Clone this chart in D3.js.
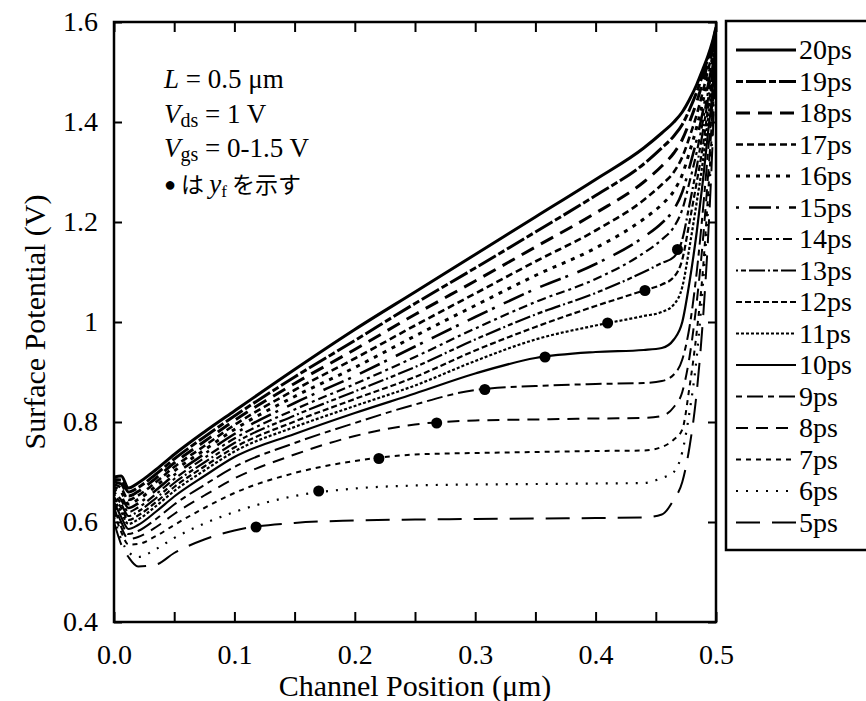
<!DOCTYPE html>
<html>
<head>
<meta charset="utf-8">
<script src="https://cdn.jsdelivr.net/npm/d3@7/dist/d3.min.js"></script>
<style>
body { margin: 0; background: #fff; }
</style>
</head>
<body>
<div id="viz"></div>
<script>
var width = 866;
var height = 701;

var positions = [0, 0.006, 0.012, 0.02, 0.035, 0.05, 0.075, 0.1, 0.15, 0.2, 0.25, 0.3, 0.35, 0.4, 0.44,
                 0.455, 0.465, 0.472, 0.478, 0.484, 0.489, 0.493, 0.497, 0.5];

// surface potential (V) for each time step
var ps20 = [0.69, 0.692, 0.668, 0.678, 0.705, 0.735, 0.78, 0.822, 0.905, 0.985, 1.06, 1.135, 1.21, 1.285, 1.348, 1.378, 1.40, 1.42, 1.445, 1.475, 1.505, 1.53, 1.56, 1.59];
var ps19 = [0.685, 0.684, 0.66, 0.669, 0.696, 0.726, 0.77, 0.812, 0.89, 0.963, 1.037, 1.108, 1.18, 1.253, 1.316, 1.348, 1.372, 1.395, 1.425, 1.46, 1.495, 1.525, 1.555, 1.588];
var ps18 = [0.68, 0.676, 0.652, 0.661, 0.688, 0.718, 0.761, 0.803, 0.877, 0.945, 1.015, 1.082, 1.15, 1.218, 1.28, 1.312, 1.338, 1.365, 1.40, 1.44, 1.48, 1.515, 1.55, 1.586];
var ps17 = [0.675, 0.668, 0.644, 0.653, 0.68, 0.71, 0.752, 0.794, 0.864, 0.927, 0.993, 1.057, 1.121, 1.183, 1.244, 1.275, 1.30, 1.33, 1.37, 1.415, 1.46, 1.50, 1.54, 1.584];
var ps16 = [0.67, 0.66, 0.636, 0.645, 0.672, 0.702, 0.744, 0.785, 0.851, 0.909, 0.972, 1.033, 1.093, 1.148, 1.206, 1.235, 1.262, 1.295, 1.34, 1.39, 1.44, 1.485, 1.53, 1.582];
var ps15 = [0.665, 0.652, 0.628, 0.637, 0.664, 0.694, 0.736, 0.776, 0.838, 0.892, 0.951, 1.01, 1.066, 1.116, 1.17, 1.198, 1.225, 1.26, 1.31, 1.365, 1.42, 1.47, 1.52, 1.58];
var ps14 = [0.66, 0.644, 0.62, 0.629, 0.656, 0.686, 0.728, 0.767, 0.825, 0.876, 0.93, 0.987, 1.04, 1.086, 1.138, 1.165, 1.19, 1.225, 1.28, 1.34, 1.40, 1.455, 1.51, 1.578];
var ps13 = [0.655, 0.636, 0.612, 0.621, 0.648, 0.678, 0.719, 0.758, 0.813, 0.861, 0.91, 0.965, 1.015, 1.058, 1.10, 1.118, 1.13, 1.165, 1.235, 1.31, 1.38, 1.44, 1.50, 1.576];
var ps12 = [0.65, 0.628, 0.604, 0.613, 0.64, 0.67, 0.711, 0.749, 0.801, 0.846, 0.89, 0.943, 0.99, 1.032, 1.063, 1.075, 1.09, 1.125, 1.20, 1.28, 1.35, 1.42, 1.49, 1.574];
var ps11 = [0.645, 0.62, 0.596, 0.605, 0.632, 0.662, 0.703, 0.741, 0.79, 0.832, 0.873, 0.922, 0.965, 0.993, 1.012, 1.02, 1.035, 1.07, 1.15, 1.24, 1.32, 1.40, 1.48, 1.572];
var ps10 = [0.64, 0.61, 0.586, 0.594, 0.621, 0.651, 0.692, 0.73, 0.776, 0.818, 0.857, 0.897, 0.928, 0.94, 0.944, 0.948, 0.965, 1.0, 1.08, 1.18, 1.28, 1.37, 1.46, 1.57];
var ps9 = [0.635, 0.6, 0.576, 0.582, 0.606, 0.635, 0.674, 0.71, 0.758, 0.798, 0.835, 0.864, 0.872, 0.876, 0.878, 0.882, 0.895, 0.925, 0.99, 1.10, 1.22, 1.33, 1.44, 1.568];
var ps8 = [0.63, 0.59, 0.566, 0.57, 0.59, 0.616, 0.653, 0.687, 0.735, 0.772, 0.795, 0.803, 0.805, 0.807, 0.808, 0.812, 0.83, 0.86, 0.93, 1.04, 1.16, 1.28, 1.42, 1.566];
var ps7 = [0.62, 0.58, 0.555, 0.556, 0.572, 0.594, 0.628, 0.658, 0.698, 0.722, 0.735, 0.738, 0.74, 0.742, 0.743, 0.75, 0.765, 0.785, 0.87, 0.98, 1.10, 1.24, 1.40, 1.564];
var ps6 = [0.61, 0.565, 0.54, 0.53, 0.546, 0.568, 0.597, 0.62, 0.652, 0.667, 0.673, 0.675, 0.676, 0.677, 0.678, 0.688, 0.70, 0.74, 0.82, 0.93, 1.07, 1.21, 1.38, 1.562];
var ps5 = [0.60, 0.555, 0.53, 0.511, 0.515, 0.538, 0.565, 0.583, 0.598, 0.603, 0.605, 0.606, 0.607, 0.608, 0.609, 0.615, 0.645, 0.68, 0.75, 0.86, 1.0, 1.15, 1.35, 1.56];

var labels = ["20ps", "19ps", "18ps", "17ps", "16ps", "15ps", "14ps", "13ps",
              "12ps", "11ps", "10ps", "9ps", "8ps", "7ps", "6ps", "5ps"];
var curves = [ps20, ps19, ps18, ps17, ps16, ps15, ps14, ps13, ps12, ps11, ps10, ps9, ps8, ps7, ps6, ps5];

// yf markers: 5ps .. 13ps
var yfPos = [0.118, 0.17, 0.22, 0.268, 0.308, 0.358, 0.41, 0.441, 0.468];
var yfVal = [0.59, 0.662, 0.727, 0.798, 0.865, 0.93, 0.998, 1.063, 1.145];

var xTicks = [0, 0.05, 0.1, 0.15, 0.2, 0.25, 0.3, 0.35, 0.4, 0.45, 0.5];
var yTicks = [0.4, 0.6, 0.8, 1, 1.2, 1.4, 1.6];

// line styles, same order as labels
var dashes = ["", "7,3,20,3", "14,8", "7,4", "4,6", "3,10,22,5", "3,4,9,4", "2,3,5,3,16,3",
              "6,3", "3,2", "", "6,5,16,5", "12,8", "5,5", "2,8", "24,12"];
var widths = [3, 3, 3, 2.6, 3, 2.6, 2.2, 2.2, 2.2, 2.2, 2.2, 2, 2, 2, 2.2, 2];

var serif = "Liberation Serif";

var svg = d3.select("#viz").append("svg")
    .attr("width", width)
    .attr("height", height);

var x = d3.scaleLinear().domain([0, 0.5]).range([114, 716]);
var y = d3.scaleLinear().domain([0.4, 1.6]).range([622, 22]);

svg.append("clipPath").attr("id", "plot")
  .append("rect")
    .attr("x", 114).attr("y", 22)
    .attr("width", 602).attr("height", 600);

var line = d3.line()
    .x(function(d, i) { return x(positions[i]); })
    .y(function(d) { return y(d); })
    .curve(d3.curveMonotoneX);

// draw the early curves first so the thick ones sit on top
for (var k = curves.length - 1; k >= 0; k--) {
  svg.append("path")
      .attr("clip-path", "url(#plot)")
      .attr("d", line(curves[k]))
      .style("fill", "none")
      .style("stroke", "#000")
      .style("stroke-width", widths[k])
      .style("stroke-dasharray", dashes[k]);
}

svg.selectAll(".yf").data(yfPos).enter().append("circle")
    .attr("class", "yf")
    .attr("cx", function(d) { return x(d); })
    .attr("cy", function(d, i) { return y(yfVal[i]); })
    .attr("r", 5.5)
    .style("fill", "#000");

// axes, ticks pointing inside
var fmtX = function(d) { return Math.round(d * 100) % 10 === 0 ? d3.format(".1f")(d) : ""; };
var fmtY = function(d) { return d === 1 ? "1" : d3.format(".1f")(d); };

svg.append("g").attr("transform", "translate(0,622)")
    .call(d3.axisBottom(x).tickValues(xTicks).tickFormat(fmtX).tickSizeInner(-10).tickSizeOuter(0).tickPadding(22));
svg.append("g").attr("transform", "translate(0,22)")
    .call(d3.axisTop(x).tickValues(xTicks).tickFormat("").tickSizeInner(-10).tickSizeOuter(0));
svg.append("g").attr("transform", "translate(114,0)")
    .call(d3.axisLeft(y).tickValues(yTicks).tickFormat(fmtY).tickSizeInner(-8).tickSizeOuter(0).tickPadding(16));
svg.append("g").attr("transform", "translate(716,0)")
    .call(d3.axisRight(y).tickValues(yTicks).tickFormat("").tickSizeInner(-8).tickSizeOuter(0));

svg.selectAll(".domain").remove();
svg.selectAll(".tick line").style("stroke", "#000").style("stroke-width", 2);
svg.selectAll(".tick text")
    .style("font-family", serif)
    .style("font-size", "28px")
    .style("fill", "#000");

svg.append("rect")
    .attr("x", 114).attr("y", 22)
    .attr("width", 602).attr("height", 600)
    .style("fill", "none")
    .style("stroke", "#000")
    .style("stroke-width", 2.5);

svg.append("text")
    .attr("x", 415).attr("y", 696)
    .attr("text-anchor", "middle")
    .style("font-family", serif)
    .style("font-size", "30px")
    .text("Channel Position (\u03bcm)");

svg.append("text")
    .attr("transform", "translate(34,322) rotate(-90)")
    .attr("text-anchor", "middle")
    .attr("dy", "0.35em")
    .style("font-family", serif)
    .style("font-size", "30px")
    .text("Surface Potential (V)");

// annotation
var note = svg.append("g").style("font-family", serif).style("font-size", "27px");
var t1 = note.append("text").attr("x", 164).attr("y", 88);
t1.append("tspan").style("font-style", "italic").text("L");
t1.append("tspan").text(" = 0.5 \u03bcm");

var t2 = note.append("text").attr("x", 164).attr("y", 123);
t2.append("tspan").style("font-style", "italic").text("V");
t2.append("tspan").attr("dy", 4).style("font-size", "20px").text("ds");
t2.append("tspan").attr("dy", -4).text(" = 1 V");

var t3 = note.append("text").attr("x", 164).attr("y", 157);
t3.append("tspan").style("font-style", "italic").text("V");
t3.append("tspan").attr("dy", 4).style("font-size", "20px").text("gs");
t3.append("tspan").attr("dy", -4).text(" = 0-1.5 V");

var t4 = note.append("text").attr("x", 164).attr("y", 193);
t4.append("tspan").style("font-size", "20px").attr("dy", -2).text("\u25cf ");
t4.append("tspan").style("font-family", "Noto Sans CJK JP").attr("dy", 2).style("font-size", "23px").text("\u306f ");
t4.append("tspan").style("font-style", "italic").text("y");
t4.append("tspan").attr("dy", 4).style("font-size", "17px").text("f");
t4.append("tspan").style("font-family", "Noto Sans CJK JP").attr("dy", -4).style("font-size", "23px").text(" \u3092\u793a\u3059");

// legend
svg.append("rect")
    .attr("x", 726).attr("y", 21)
    .attr("width", 160).attr("height", 529)
    .style("fill", "#fff")
    .style("stroke", "#000")
    .style("stroke-width", 2.5);

var leg = svg.selectAll(".leg").data(labels).enter().append("g")
    .attr("class", "leg")
    .attr("transform", function(d, i) { return "translate(0," + (50 + i * 31.5) + ")"; });

leg.append("line")
    .attr("x1", 736).attr("x2", 796)
    .style("stroke", "#000")
    .style("stroke-width", function(d, i) { return widths[i]; })
    .style("stroke-dasharray", function(d, i) { return dashes[i]; });

leg.append("text")
    .attr("x", 799)
    .attr("dy", "0.33em")
    .style("font-family", serif)
    .style("font-size", "28px")
    .text(function(d) { return d; });
</script>
</body>
</html>
